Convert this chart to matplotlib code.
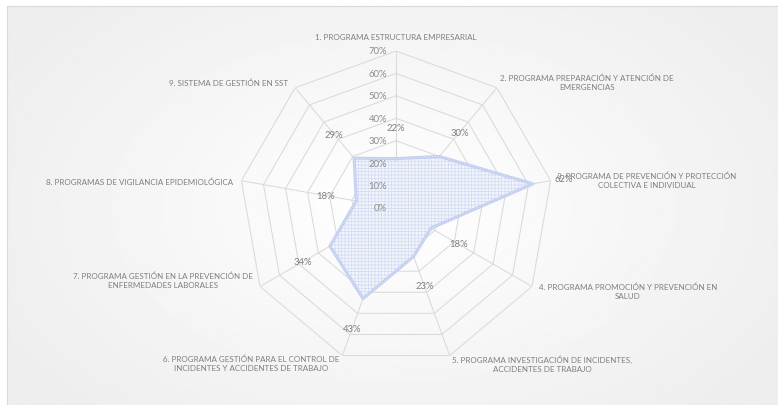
import numpy as np
import matplotlib
matplotlib.use("Agg")
import matplotlib.pyplot as plt
from matplotlib.patches import Rectangle

plt.rcParams['font.family'] = ['Lato', 'DejaVu Sans']
plt.rcParams['hatch.linewidth'] = 0.5

# Data
categories = [
    "1. PROGRAMA ESTRUCTURA EMPRESARIAL",
    "2. PROGRAMA PREPARACIÓN Y ATENCIÓN DE\nEMERGENCIAS",
    "3. PROGRAMA DE PREVENCIÓN Y PROTECCIÓN\nCOLECTIVA E INDIVIDUAL",
    "4. PROGRAMA PROMOCIÓN Y PREVENCIÓN EN\nSALUD",
    "5. PROGRAMA INVESTIGACIÓN DE INCIDENTES,\nACCIDENTES DE TRABAJO",
    "6. PROGRAMA GESTIÓN PARA EL CONTROL DE\nINCIDENTES Y ACCIDENTES DE TRABAJO",
    "7. PROGRAMA GESTIÓN EN LA PREVENCIÓN DE\nENFERMEDADES LABORALES",
    "8. PROGRAMAS DE VIGILANCIA EPIDEMIOLÓGICA",
    "9. SISTEMA DE GESTIÓN EN SST",
]
values = [0.22, 0.30, 0.62, 0.18, 0.23, 0.43, 0.34, 0.18, 0.29]
levels = [0.0, 0.1, 0.2, 0.3, 0.4, 0.5, 0.6, 0.7]
level_labels = ["0%", "10%", "20%", "30%", "40%", "50%", "60%", "70%"]

# label positions in pixels (x, y from top) and alignment
label_pos = [(396, 38, 'center'), (587, 83, 'center'), (647, 181, 'center'),
             (628, 292, 'center'), (542, 364, 'center'), (251, 364, 'center'),
             (163, 281, 'center'), (233, 182, 'right'), (288, 83, 'right')]

W, H = 778, 406
fig = plt.figure(figsize=(W / 100, H / 100), dpi=100)
fig.patch.set_facecolor('white')

# background panel with soft gradient
bg = fig.add_axes([0, 0, 1, 1], zorder=-2)
yy, xx = np.mgrid[0:1:200j, 0:1:400j]
grad = np.clip(np.sqrt(((xx - 0.5) * 1.2) ** 2 + (yy - 0.5) ** 2) * 1.4, 0, 1)
bg.imshow(1 - 0.07 * grad, cmap='gray', vmin=0, vmax=1, extent=[7, W + 2, -2, H - 7],
          aspect='auto')
bg.add_patch(Rectangle((7, -2), W, H - 5, fill=False, edgecolor='#d9d9d9', lw=0.8))
bg.set_xlim(0, W)
bg.set_ylim(0, H)
bg.axis('off')

cx, cy, R = 396, 209, 157
ax = fig.add_axes([(cx - R) / W, (H - cy - R) / H, 2 * R / W, 2 * R / H], polar=True)
ax.set_facecolor('none')
ax.set_theta_zero_location('N')
ax.set_theta_direction(-1)
ax.set_ylim(0, 0.7)
ax.grid(False)
ax.spines['polar'].set_visible(False)
ax.set_xticks([])
ax.set_yticks([])

n = len(categories)
angles = np.arange(n) * 2 * np.pi / n
closed = np.append(angles, angles[0])

# nonagon grid
for lv in levels[1:]:
    ax.plot(closed, [lv] * (n + 1), color='#dadada', lw=0.75, zorder=1)
for a in angles:
    ax.plot([a, a], [0, 0.7], color='#dadada', lw=0.75, zorder=1)

# series
vals = np.append(values, values[0])
ax.fill(closed, vals, facecolor='#f3f5fc', edgecolor='#d2daf2', hatch='+++++',
        lw=0, zorder=2)
ax.plot(closed, vals, color='#c3cef0', lw=2.2, zorder=3)
ax.plot(closed, vals, color='#dfe5f7', lw=0.8, ls=(0, (1, 1.5)), zorder=3)

# data labels
for a, v in zip(angles, values):
    ax.text(a, v + 0.14, f"{v:.0%}", ha='center', va='center', fontsize=6.8,
            color='#7f7f7f', zorder=4)

# ring labels
for lv, lab in zip(levels, level_labels):
    fig.text((cx - 9) / W, 1 - (cy - lv / 0.7 * R) / H, lab, ha='right', va='center',
             fontsize=6.8, color='#8c8c8c')

# category labels
for text, (px, py, ha) in zip(categories, label_pos):
    fig.text(px / W, 1 - py / H, text, ha=ha, va='center', fontsize=5.8,
             color='#7f7f7f', multialignment='center', linespacing=1.3)

fig.savefig('out.png', dpi=100)
